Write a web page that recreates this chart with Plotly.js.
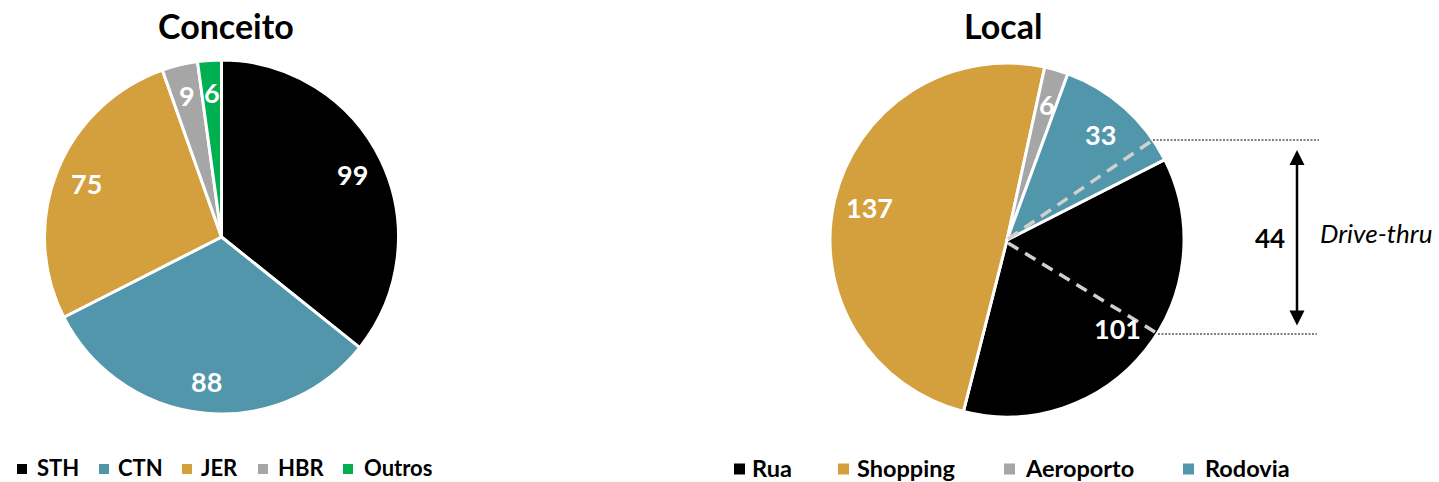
<!DOCTYPE html>
<html><head><meta charset="utf-8">
<script src="https://cdn.plot.ly/plotly-3.0.1.min.js"></script>
<style>html,body{margin:0;padding:0;background:#fff;} #chart{width:1439px;height:482px;}</style>
</head><body><div id="chart"></div>
<script>
// ---- data ----
const conceitoLabels = ['STH', 'CTN', 'JER', 'HBR', 'Outros'];
const conceitoValues = [99, 88, 75, 9, 6];
const conceitoColors = ['#000000', '#5296AB', '#D4A03E', '#A6A6A6', '#00B050'];

const localLabels = ['Rua', 'Shopping', 'Aeroporto', 'Rodovia'];
const localValues = [101, 137, 6, 33];
const localColors = ['#000000', '#D4A03E', '#A6A6A6', '#5296AB'];

const chartTitles = ['Conceito', 'Local'];
const driveThruValue = 44;
const driveThruLabel = 'Drive-thru';

// ---- layout helpers ----
const W = 1439, H = 482;
const FONT = 'Lato, "Open Sans", sans-serif';
const px = x => x / W;
const py = y => 1 - y / H;

const pies = [
  {labels: conceitoLabels, values: conceitoValues, colors: conceitoColors, title: chartTitles[0],
   cx: 221.5, cy: 237, r: 177, rot: 0, labelR: 0.82, titleX: 225.5,
   legendSq: [17, 99, 182, 258, 343], legendTx: [36, 117, 200, 277, 363], sq: 10, legendFont: 22},
  {labels: localLabels, values: localValues, colors: localColors, title: chartTitles[1],
   cx: 1007, cy: 240, r: 177, rot: 63, labelR: 0.80, titleX: 1002.5,
   legendSq: [734, 838, 1004, 1183], legendTx: [751, 856, 1024, 1204], sq: 11, legendFont: 23.5}
];

const traces = [];
const annotations = [];
const shapes = [];

pies.forEach(p => {
  traces.push({
    type: 'pie', labels: p.labels, values: p.values, sort: false,
    direction: 'clockwise', rotation: p.rot,
    marker: {colors: p.colors, line: {color: '#ffffff', width: 3}},
    textinfo: 'none', hoverinfo: 'label+value', showlegend: false,
    domain: {x: [px(p.cx - p.r), px(p.cx + p.r)], y: [py(p.cy + p.r), py(p.cy - p.r)]}
  });
  // title
  annotations.push({text: '<b>' + p.title + '</b>', x: px(p.titleX), y: py(25), xref: 'paper', yref: 'paper',
    xanchor: 'center', yanchor: 'middle', showarrow: false, font: {family: FONT, size: 34, color: '#000'}});
  // slice value labels at mid-angle of each slice
  const total = p.values.reduce((a, b) => a + b, 0);
  let cum = 0;
  p.values.forEach(v => {
    const a = (p.rot + (cum + v / 2) / total * 360) * Math.PI / 180;
    cum += v;
    const x = p.cx + p.labelR * p.r * Math.sin(a);
    const y = p.cy - p.labelR * p.r * Math.cos(a);
    annotations.push({text: '<b>' + v + '</b>', x: px(x), y: py(y), xref: 'paper', yref: 'paper',
      xanchor: 'center', yanchor: 'middle', showarrow: false, font: {family: FONT, size: 27, color: '#ffffff'}});
  });
  // legend
  p.labels.forEach((lab, i) => {
    shapes.push({type: 'rect', xref: 'paper', yref: 'paper',
      x0: px(p.legendSq[i]), x1: px(p.legendSq[i] + p.sq), y0: py(469 + p.sq / 2), y1: py(469 - p.sq / 2),
      fillcolor: p.colors[i], line: {width: 0}});
    annotations.push({text: '<b>' + lab + '</b>', x: px(p.legendTx[i]), y: py(467.5), xref: 'paper', yref: 'paper',
      xanchor: 'left', yanchor: 'middle', showarrow: false, borderpad: 0,
      font: {family: FONT, size: p.legendFont, color: '#000'}});
  });
});

// drive-thru markup
shapes.push(
  {type: 'line', xref: 'paper', yref: 'paper', x0: px(1008), y0: py(239), x1: px(1153), y1: py(140),
   line: {color: '#D0D0D0', width: 3.5, dash: '12px,8px'}},
  {type: 'line', xref: 'paper', yref: 'paper', x0: px(1008), y0: py(243), x1: px(1155), y1: py(332),
   line: {color: '#D0D0D0', width: 3.5, dash: '12px,8px'}},
  {type: 'line', xref: 'paper', yref: 'paper', x0: px(1153), y0: py(140), x1: px(1319), y1: py(140),
   line: {color: '#000', width: 1, dash: '2px,1.5px'}},
  {type: 'line', xref: 'paper', yref: 'paper', x0: px(1158), y0: py(334), x1: px(1317), y1: py(334),
   line: {color: '#000', width: 1, dash: '2px,1.5px'}}
);
annotations.push(
  {text: '', x: px(1297), y: py(150), xref: 'paper', yref: 'paper', ax: 0, ay: 177,
   showarrow: true, arrowside: 'end+start', arrowhead: 2, startarrowhead: 2,
   arrowsize: 1.2, startarrowsize: 1.2, arrowwidth: 2.5, arrowcolor: '#000', standoff: 0, startstandoff: 0},
  {text: '<b>' + driveThruValue + '</b>', x: px(1270), y: py(238), xref: 'paper', yref: 'paper',
   xanchor: 'center', yanchor: 'middle', showarrow: false, font: {family: FONT, size: 26, color: '#000'}},
  {text: '<i>' + driveThruLabel + '</i>', x: px(1318), y: py(233), xref: 'paper', yref: 'paper',
   xanchor: 'left', yanchor: 'middle', showarrow: false, font: {family: FONT, size: 26, color: '#000'}}
);

const layout = {
  width: W, height: H, margin: {l: 0, r: 0, t: 0, b: 0},
  paper_bgcolor: '#ffffff', plot_bgcolor: '#ffffff',
  showlegend: false, annotations: annotations, shapes: shapes,
  font: {family: FONT}
};
Plotly.newPlot('chart', traces, layout, {displayModeBar: false, staticPlot: true});
</script>
</body></html>
